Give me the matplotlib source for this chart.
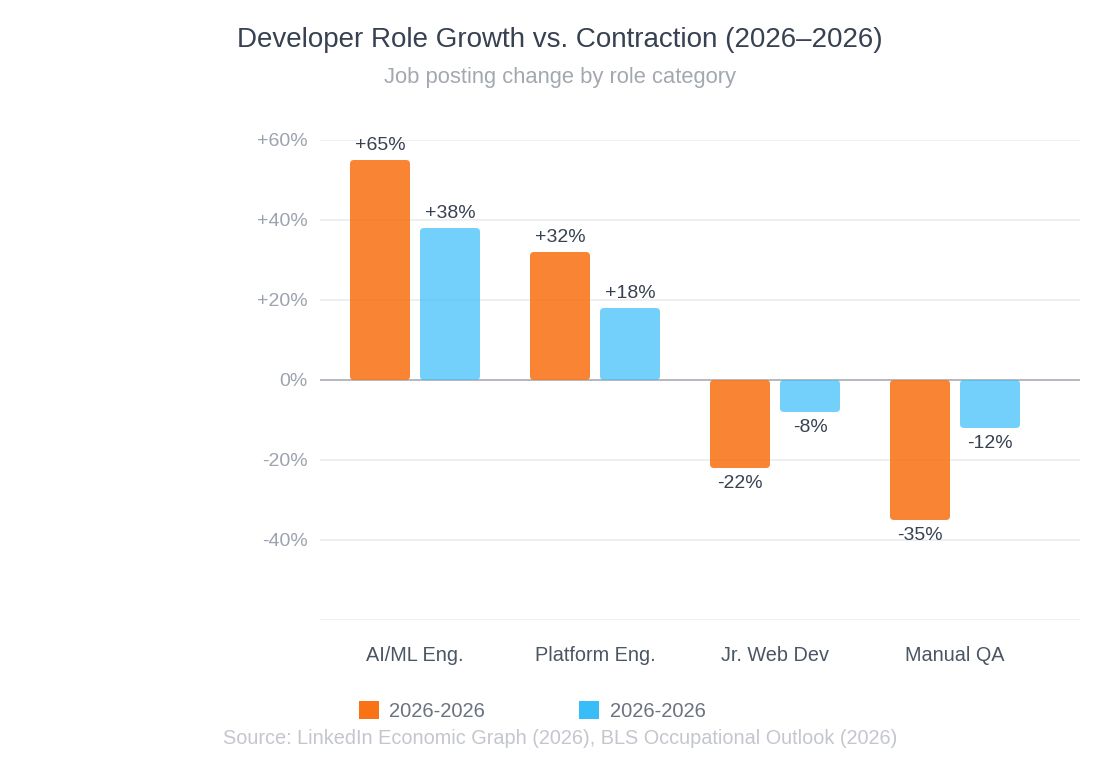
import matplotlib
matplotlib.use("Agg")
import matplotlib.pyplot as plt
from matplotlib.patches import FancyBboxPatch, Patch
import numpy as np

plt.rcParams['font.family'] = ['Liberation Sans', 'DejaVu Sans']

categories = ["AI/ML Eng.", "Platform Eng.", "Jr. Web Dev", "Manual QA"]
series_names = ["2026-2026", "2026-2026"]
values_a = [65, 32, -22, -35]
values_b = [38, 18, -8, -12]
bar_cap = 55  # tallest drawn bar height in the reference
yticks = [-60, -40, -20, 0, 20, 40, 60]

title = "Developer Role Growth vs. Contraction (2026\u20132026)"
subtitle = "Job posting change by role category"
source = "Source: LinkedIn Economic Graph (2026), BLS Occupational Outlook (2026)"

col_a = "#F97316"
col_b = "#38BDF8"

fig = plt.figure(figsize=(11.2, 7.6), dpi=100)
ax = fig.add_axes([320/1120, 1-620/760, 760/1120, 480/760])
ax.set_xlim(-95/180, 3 + 125/180)
ax.set_ylim(-60, 60)

for s in ax.spines.values():
    s.set_visible(False)
ax.set_yticks(yticks)
ax.set_yticklabels([("+%d%%" % t if t > 0 else "%d%%" % t) if t != -60 else "" for t in yticks])
ax.tick_params(axis='y', length=0, pad=9, labelsize=14, labelcolor="#9CA3AF")
ax.tick_params(axis='x', length=0, pad=18.5, labelsize=14.3, labelcolor="#4B5563")
ax.set_axisbelow(True)
ax.grid(axis='y', color="#EBECEF", linewidth=1.2)
ax.axhline(0, color="#B0B4BA", linewidth=1.3, zorder=1)

x = np.arange(len(categories))
w = 60/180
off = 35/180
ax.set_xticks(x)
ax.set_xticklabels(categories)

def draw(vals, xs, color, alpha):
    heights = np.minimum(vals, bar_cap)
    bars = ax.bar(xs, heights, width=w, color=color, alpha=0)
    for b, v in zip(bars, vals):
        x0, y0 = b.get_x(), b.get_y()
        bw, bh = b.get_width(), b.get_height()
        p = FancyBboxPatch((x0, min(y0, y0 + bh)), bw, abs(bh),
                           boxstyle="round,pad=0,rounding_size=0.022",
                           mutation_aspect=45, facecolor=color, edgecolor='none',
                           alpha=alpha, zorder=2)
        ax.add_patch(p)
        top = y0 + bh
        lab = ("+%d%%" % v) if v > 0 else ("%d%%" % v)
        if v >= 0:
            ax.annotate(lab, (x0 + bw/2, top), xytext=(0, 4), textcoords='offset points',
                        ha='center', va='bottom', fontsize=14, color="#374151")
        else:
            ax.annotate(lab, (x0 + bw/2, top), xytext=(0, -5), textcoords='offset points',
                        ha='center', va='top', fontsize=14, color="#374151")

draw(values_a, x - off, col_a, 0.88)
draw(values_b, x + off, col_b, 0.7)

fig.text(560/1120, 1-40/760, title, ha='center', va='center', fontsize=20, color="#374151")
fig.text(560/1120, 1-77/760, subtitle, ha='center', va='center', fontsize=15.8, color="#A3A8B0")
fig.text(560/1120, 1-738/760, source, ha='center', va='center', fontsize=14.3, color="#C3C7CD")

handles = [Patch(facecolor=col_a, edgecolor='none'), Patch(facecolor=col_b, edgecolor='none')]
fig.legend(handles, series_names, loc='center', bbox_to_anchor=(532/1120, 1-711/760),
           ncol=2, frameon=False, fontsize=14.5, labelcolor="#6B7280",
           handlelength=1.0, handleheight=1.0, handletextpad=0.5, columnspacing=4.7)

fig.savefig("out.png", dpi=100)
